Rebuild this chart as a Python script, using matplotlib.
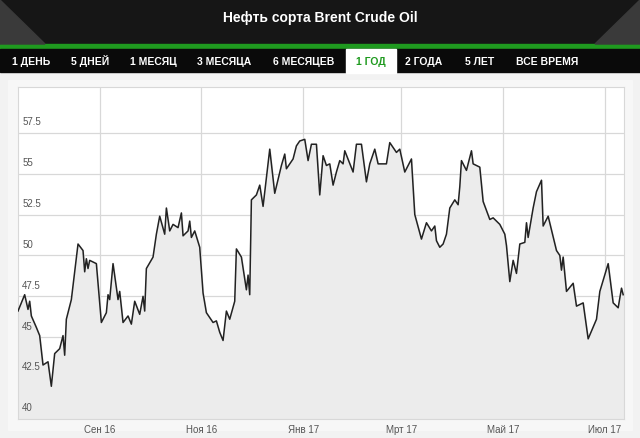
import numpy as np
import pandas as pd
import matplotlib.pyplot as plt
import matplotlib.patches as mpatches
import matplotlib.transforms as mtransforms

plt.rcParams['font.family'] = ['Liberation Sans', 'DejaVu Sans']

# days since start, price
start = pd.Timestamp('2016-07-14')
days = [0, 4, 6, 7, 8, 11, 13, 15, 18, 20, 22, 25, 27, 28, 29, 32, 36, 39, 40, 41,
        42, 43, 47, 50, 53, 54, 55, 57, 60, 61, 63, 66, 68, 70, 73, 75, 76, 77, 81, 83,
        85, 88, 89, 91, 93, 96, 98, 99, 102, 103, 104, 106, 109, 111, 113, 117, 119, 121, 123, 125,
        127, 130, 131, 134, 137, 138, 139, 140, 143, 145, 147, 151, 154, 158, 160, 161, 165, 167,
        169, 172, 174, 176, 179, 181, 183, 185, 187, 189, 191, 193, 195, 196, 201, 203, 206, 209,
        211, 214, 216, 221, 223, 225, 227, 229, 232, 236, 238, 242, 245, 248, 250, 251, 253, 255,
        257, 259, 262, 264, 265, 266, 269, 272, 273, 277, 279, 283, 285, 289, 292, 293, 295, 297,
        299, 301, 304, 305, 306, 309, 311, 314, 315, 318, 323, 325, 326, 327, 329, 333, 335, 339,
        342, 347, 349, 354, 357, 360, 362, 363]
price = [46.6, 47.6, 46.7, 47.2, 46.3, 45.6, 45.1, 43.3, 43.5, 42.0, 44.0, 44.3, 45.1, 43.9, 46.1, 47.3, 50.7, 50.3, 49.0, 49.8,
         49.2, 49.7, 49.5, 45.9, 46.5, 47.6, 47.3, 49.5, 47.3, 47.8, 45.9, 46.3, 45.8, 47.2, 46.4, 47.5, 46.6, 49.2, 49.9, 51.3,
         52.4, 51.3, 52.9, 51.5, 51.9, 51.7, 52.6, 51.2, 51.5, 52.1, 51.1, 51.5, 50.5, 47.7, 46.5, 45.9, 46.0, 45.3, 44.8, 46.6,
         46.1, 47.2, 50.4, 49.9, 47.9, 48.8, 47.6, 53.4, 53.7, 54.3, 53.0, 56.5, 53.8, 55.5, 56.2, 55.3, 55.9, 56.7,
         57.0, 57.1, 55.8, 56.8, 56.8, 53.7, 56.1, 55.5, 55.6, 54.3, 55.1, 55.8, 55.6, 56.4, 55.1, 56.8, 56.8, 54.5,
         55.6, 56.5, 55.6, 55.6, 56.9, 56.6, 56.3, 56.5, 55.1, 55.9, 52.5, 51.0, 52.0, 51.5, 51.8, 50.9, 50.5, 50.7,
         51.3, 52.9, 53.4, 53.1, 54.2, 55.8, 55.2, 56.4, 55.6, 55.4, 53.3, 52.2, 52.3, 51.9, 51.3, 50.6, 48.4, 49.7,
         48.9, 50.7, 50.8, 52.0, 51.1, 52.9, 53.9, 54.6, 51.8, 52.4, 50.3, 50.0, 49.1, 49.9, 47.8, 48.3, 46.9, 47.1,
         44.9, 46.1, 47.8, 49.5, 47.1, 46.8, 48.0, 47.6]
dates = start + pd.to_timedelta(days, unit='D')

tabs = ['1 ДЕНЬ', '5 ДНЕЙ', '1 МЕСЯЦ', '3 МЕСЯЦА', '6 МЕСЯЦЕВ', '1 ГОД', '2 ГОДА', '5 ЛЕТ', 'ВСЕ ВРЕМЯ']
tab_x = [31, 90, 153, 224, 304, 371, 424, 480, 547]
yticks = [40, 42.5, 45, 47.5, 50, 52.5, 55, 57.5]
xtick_dates = ['2016-09-01', '2016-11-01', '2017-01-01', '2017-03-01', '2017-05-01', '2017-07-01']
xtick_labels = ['Сен 16', 'Ноя 16', 'Янв 17', 'Мрт 17', 'Май 17', 'Июл 17']

W, H = 640, 438
fig = plt.figure(figsize=(W / 100, H / 100), dpi=100, facecolor='#f2f2f2')

def rect(x, y, w, h, color):
    fig.patches.append(mpatches.Rectangle((x / W, 1 - (y + h) / H), w / W, h / H,
                                          transform=fig.transFigure, color=color, zorder=-5))

rect(0, 0, W, 46, '#161616')
rect(0, 44, W, 5, '#1f9a1f')
rect(0, 49, W, 23, '#0a0a0a')
rect(346, 49, 50, 24, 'white')
rect(8, 80, 624, 350, '#f7f7f7')
# lighter diagonal corners of the header
for xs in ([0, 0, 45], [W, W, W - 45]):
    fig.patches.append(mpatches.Polygon([(xs[0] / W, 1), (xs[2] / W, 1 - 44 / H), (xs[1] / W, 1 - 44 / H)],
                                        closed=True, transform=fig.transFigure,
                                        color='#3a3a3a', zorder=-4))
fig.text(0.5, 1 - 22 / H, 'Нефть сорта Brent Crude Oil', color='white', fontsize=10,
         fontweight='bold', ha='center', va='baseline')
for t, x in zip(tabs, tab_x):
    fig.text(x / W, 1 - 65 / H, t, color='#1f9a1f' if t == '1 ГОД' else 'white',
             fontsize=7.5, fontweight='bold', ha='center', va='baseline')

ax = fig.add_axes([18 / W, 19 / H, 606 / W, 332 / H])
ax.set_zorder(2)
ax.set_facecolor('white')
ax.plot(dates, price, color='#222222', lw=1.1, zorder=3)
ax.fill_between(dates, price, 40, color='#ececec', zorder=2)
ax.set_ylim(40, 60.3)
ax.set_xlim(start, start + pd.Timedelta(days=363.5))
ax.set_yticks(yticks)
ax.set_yticklabels([])
ax.tick_params(axis='y', length=0)
ax.set_xticks(pd.to_datetime(xtick_dates))
ax.set_xticklabels(xtick_labels, fontsize=7, color='#555555')
ax.tick_params(axis='x', length=0, pad=4)
ax.grid(True, color='#d8d8d8', lw=0.9, zorder=1)
for s in ax.spines.values():
    s.set_color('#d8d8d8')
trans = mtransforms.blended_transform_factory(ax.transAxes, ax.transData)
for v in yticks:
    ax.text(0.007, v + 0.35, f'{v:g}', transform=trans, fontsize=7, color='#555555',
            va='bottom', ha='left', zorder=4)

fig.savefig('out.png', dpi=100, facecolor=fig.get_facecolor())
